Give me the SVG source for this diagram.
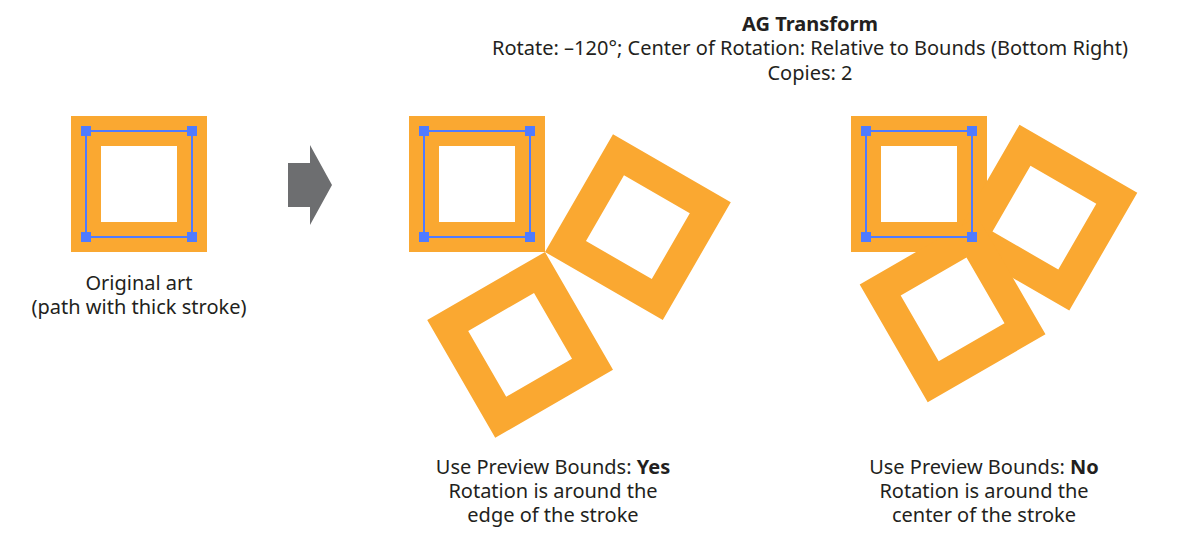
<svg xmlns="http://www.w3.org/2000/svg" width="1180" height="540" viewBox="0 0 1180 540">
<style>
.art{fill:none;stroke:#FAA831;stroke-width:30;stroke-linejoin:miter}
.path{fill:none;stroke:#4F7BFF;stroke-width:2}
.h{fill:#4F7BFF}
text{font-family:"Noto Sans","Open Sans",sans-serif;font-size:20px;fill:#231F20;text-anchor:middle}
.b{font-weight:bold}
</style>
<defs>
<rect id="sq" class="art" x="0" y="0" width="106" height="106"/>
<g id="sel">
<rect class="path" x="0" y="0" width="106" height="106"/>
<rect class="h" x="-5" y="-5" width="10" height="10"/>
<rect class="h" x="101" y="-5" width="10" height="10"/>
<rect class="h" x="-5" y="101" width="10" height="10"/>
<rect class="h" x="101" y="101" width="10" height="10"/>
</g>
</defs>
<g id="title">
<text x="810" y="31" class="b">AG Transform</text>
<text x="810" y="55">Rotate: –120°; Center of Rotation: Relative to Bounds (Bottom Right)</text>
<text x="810" y="80">Copies: 2</text>
</g>
<g id="original">
<use href="#sq" x="86" y="131"/>
<use href="#sel" x="86" y="131"/>
<text x="139" y="290">Original art</text>
<text x="139" y="314">(path with thick stroke)</text>
</g>
<g id="connectors">
<polygon points="288,163 310,163 310,145 332,185 310,225 310,207 288,207" fill="#6D6E70"/>
</g>
<g id="preview-yes">
<use href="#sq" x="424" y="131"/>
<g transform="rotate(120 545 252)"><use href="#sq" x="424" y="131"/></g>
<g transform="rotate(240 545 252)"><use href="#sq" x="424" y="131"/></g>
<use href="#sel" x="424" y="131"/>
<text x="553" y="474">Use Preview Bounds: <tspan class="b">Yes</tspan></text>
<text x="553" y="498">Rotation is around the</text>
<text x="553" y="522">edge of the stroke</text>
</g>
<g id="preview-no">
<use href="#sq" x="866" y="131"/>
<g transform="rotate(120 972 237)"><use href="#sq" x="866" y="131"/></g>
<g transform="rotate(240 972 237)"><use href="#sq" x="866" y="131"/></g>
<use href="#sel" x="866" y="131"/>
<text x="984" y="474">Use Preview Bounds: <tspan class="b">No</tspan></text>
<text x="984" y="498">Rotation is around the</text>
<text x="984" y="522">center of the stroke</text>
</g>
</svg>
